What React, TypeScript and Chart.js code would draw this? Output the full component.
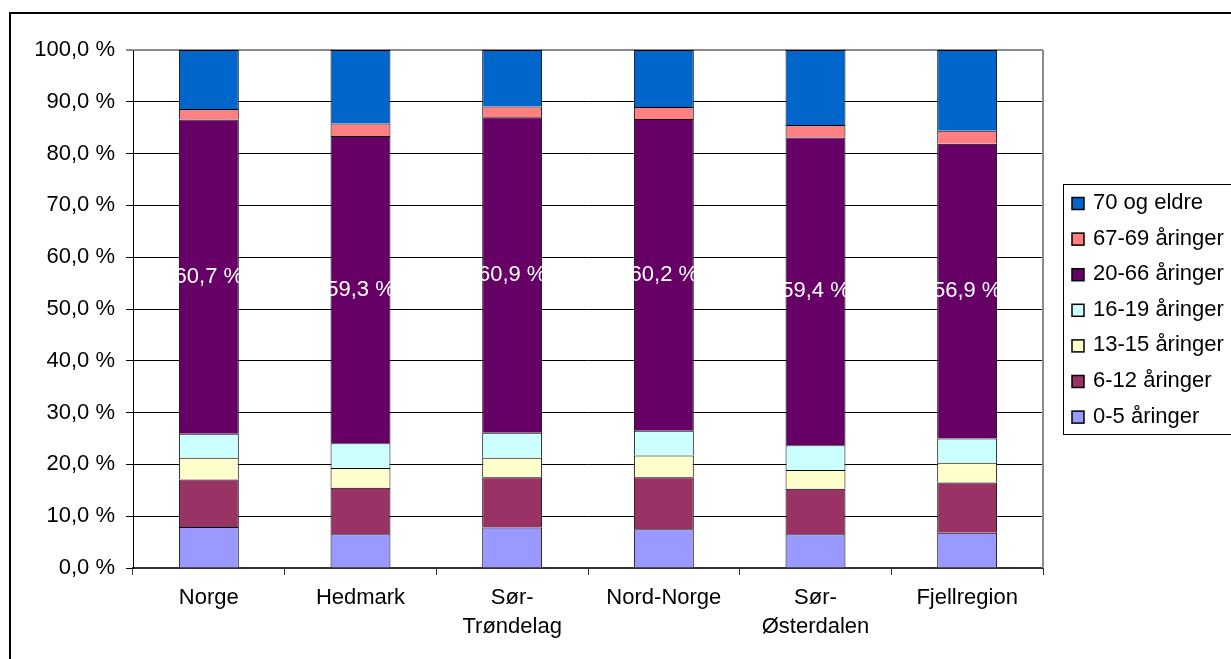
import React, { useEffect, useRef } from "react";
import { Chart, registerables } from "chart.js";

Chart.register(...registerables);

const categories: (string | string[])[] = [
  "Norge",
  "Hedmark",
  ["Sør-", "Trøndelag"],
  "Nord-Norge",
  ["Sør-", "Østerdalen"],
  "Fjellregion",
];

const seriesNames = [
  "0-5 åringer",
  "6-12 åringer",
  "13-15 åringer",
  "16-19 åringer",
  "20-66 åringer",
  "67-69 åringer",
  "70 og eldre",
];

const age0to5 = [7.9, 6.5, 7.8, 7.5, 6.5, 6.8];
const age6to12 = [9.2, 9.0, 9.7, 10.0, 8.8, 9.7];
const age13to15 = [4.2, 3.8, 3.8, 4.2, 3.6, 3.8];
const age16to19 = [4.6, 4.8, 4.8, 4.8, 4.8, 4.7];
const age20to66 = [60.7, 59.3, 60.9, 60.2, 59.4, 56.9];
const age67to69 = [2.0, 2.4, 2.1, 2.3, 2.4, 2.5];
const age70plus = [11.4, 14.2, 10.9, 11.0, 14.5, 15.6];

const seriesColors = [
  "#9999FF",
  "#993366",
  "#FFFFCC",
  "#CCFFFF",
  "#660066",
  "#FF8080",
  "#0066CC",
];

const yTickLabels = [
  "0,0 %",
  "10,0 %",
  "20,0 %",
  "30,0 %",
  "40,0 %",
  "50,0 %",
  "60,0 %",
  "70,0 %",
  "80,0 %",
  "90,0 %",
  "100,0 %",
];

const FONT = "'Liberation Sans', Arial, sans-serif";
const FS = 22;

const fmt = (v: number) => v.toFixed(1).replace(".", ",") + " %";

export default function App() {
  const canvasRef = useRef<HTMLCanvasElement | null>(null);

  useEffect(() => {
    const canvas = canvasRef.current;
    if (!canvas) return;

    const seriesValues = [age0to5, age6to12, age13to15, age16to19, age20to66, age67to69, age70plus];

    const framePlugin = {
      id: "frame",
      beforeDraw(chart: any) {
        const ctx = chart.ctx;
        ctx.save();
        ctx.fillStyle = "#ffffff";
        ctx.fillRect(0, 0, chart.width, chart.height);
        ctx.strokeStyle = "#000";
        ctx.lineWidth = 2;
        ctx.strokeRect(10, 13, chart.width + 20, chart.height + 20);
        ctx.restore();
      },
      afterDraw(chart: any) {
        const ctx = chart.ctx;
        const a = chart.chartArea;
        ctx.save();
        // right plot border (gray)
        ctx.strokeStyle = "#8a8a8a";
        ctx.lineWidth = 2;
        ctx.beginPath();
        ctx.moveTo(a.right, a.top);
        ctx.lineTo(a.right, a.bottom);
        ctx.stroke();

        // data labels for 20-66
        const meta = chart.getDatasetMeta(4);
        ctx.fillStyle = "#ffffff";
        ctx.font = `${FS}px ${FONT}`;
        ctx.textAlign = "center";
        ctx.textBaseline = "middle";
        meta.data.forEach((el: any, i: number) => {
          const cy = (el.y + el.base) / 2;
          ctx.fillText(fmt(age20to66[i]), el.x, cy);
        });

        // legend
        const lx = 1063;
        const ly = 184;
        ctx.strokeStyle = "#000";
        ctx.lineWidth = 1;
        ctx.strokeRect(lx + 0.5, ly + 0.5, 400, 250);
        ctx.font = `${FS}px ${FONT}`;
        ctx.textAlign = "left";
        ctx.textBaseline = "middle";
        const n = seriesNames.length;
        for (let k = 0; k < n; k++) {
          const idx = n - 1 - k;
          const cy = 202 + k * 35.6;
          ctx.fillStyle = seriesColors[idx];
          ctx.fillRect(1072, cy - 4.5, 12, 12);
          ctx.strokeStyle = "#000";
          ctx.lineWidth = 1.5;
          ctx.strokeRect(1072, cy - 4.5, 12, 12);
          ctx.fillStyle = "#000";
          ctx.fillText(seriesNames[idx], 1093, cy + 1);
        }
        ctx.restore();
      },
    };

    const chart = new Chart(canvas, {
      type: "bar",
      data: {
        labels: categories as any,
        datasets: seriesNames.map((name, i) => ({
          label: name,
          data: seriesValues[i],
          backgroundColor: seriesColors[i],
          borderColor: "#000",
          borderWidth: 1,
          barPercentage: 0.395,
          categoryPercentage: 1,
        })),
      },
      options: {
        responsive: false,
        animation: false,
        devicePixelRatio: 1,
        layout: { padding: { left: 10, right: 188, top: 50, bottom: 0 } },
        plugins: {
          legend: { display: false },
          tooltip: { enabled: false },
          title: { display: false },
        },
        scales: {
          x: {
            stacked: true,
            afterFit: (s: any) => {
              s.height = 91;
            },
            grid: {
              drawOnChartArea: false,
              drawTicks: true,
              tickLength: 7,
              color: "#333",
              offset: true,
            },
            border: { color: "#333", width: 2 },
            ticks: {
              color: "#000",
              padding: 9,
              maxRotation: 0,
              autoSkip: false,
              font: { family: FONT, size: FS, lineHeight: 1.29 },
            },
          },
          y: {
            stacked: true,
            min: 0,
            max: 100,
            afterFit: (s: any) => {
              s.width = 123;
            },
            grid: {
              color: (c: any) => (c.tick && c.tick.value === 100 ? "#8a8a8a" : "#000"),
              lineWidth: (c: any) => (c.tick && c.tick.value === 100 ? 2 : 1),
              tickLength: 7,
              drawTicks: true,
            },
            border: { color: "#000", width: 1 },
            ticks: {
              stepSize: 10,
              color: "#000",
              padding: 11,
              font: { family: FONT, size: FS },
              callback: (_v: any, i: number) => yTickLabels[i],
            },
          },
        },
      },
      plugins: [framePlugin],
    });

    return () => chart.destroy();
  }, []);

  return (
    <div style={{ position: "absolute", left: 0, top: 0, width: 1231, height: 659, overflow: "hidden", background: "#fff" }}>
      <canvas ref={canvasRef} width={1231} height={659} style={{ display: "block", width: 1231, height: 659 }} />
    </div>
  );
}
